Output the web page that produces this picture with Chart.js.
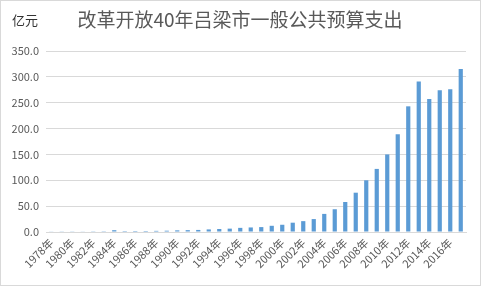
<!DOCTYPE html>
<html>
<head>
<meta charset="utf-8">
<script src="https://cdn.jsdelivr.net/npm/chart.js@4.4.0/dist/chart.umd.min.js"></script>
<style>
  html, body { margin: 0; padding: 0; background: #fff; }
  #container { position: relative; width: 479px; height: 284px; border: 1px solid #d9d9d9; }
</style>
</head>
<body>
<div id="container"><canvas id="budgetChart" width="479" height="284"></canvas></div>
<script>
// years 1978 - 2017
const years = ['1978年','1979年','1980年','1981年','1982年','1983年','1984年','1985年','1986年','1987年',
  '1988年','1989年','1990年','1991年','1992年','1993年','1994年','1995年','1996年','1997年',
  '1998年','1999年','2000年','2001年','2002年','2003年','2004年','2005年','2006年','2007年',
  '2008年','2009年','2010年','2011年','2012年','2013年','2014年','2015年','2016年','2017年'];

// 一般公共预算支出 (亿元)
const spending = [1.2, 1.3, 1.3, 1.2, 1.4, 1.5, 3.5, 1.8, 1.9, 1.9,
  2.2, 2.5, 3.2, 3.6, 4.0, 5.0, 5.8, 6.5, 8.0, 8.8,
  9.5, 12, 14, 18, 21, 25, 35, 44, 58, 76,
  100, 122, 150, 189, 243, 291, 257, 274, 276, 315];

const yTicks = [0, 50, 100, 150, 200, 250, 300, 350];

const titleText = '改革开放40年吕梁市一般公共预算支出';
const unitText = '亿元';
const fontFamily = '"Noto Sans CJK SC", "Microsoft YaHei", sans-serif';

// title and unit label, drawn above the plot
const headerText = {
    id: 'headerText',
    afterDraw(chart) {
        const ctx = chart.ctx;
        ctx.save();
        ctx.textBaseline = 'middle';
        ctx.font = '13px ' + fontFamily;
        ctx.fillStyle = '#333333';
        ctx.textAlign = 'left';
        ctx.fillText(unitText, 11, 19);
        ctx.font = '19px ' + fontFamily;
        ctx.fillStyle = '#595959';
        ctx.textAlign = 'center';
        ctx.fillText(titleText, 239, 19);
        ctx.restore();
    }
};

const ctx = document.getElementById('budgetChart').getContext('2d');
const chart = new Chart(ctx, {
    type: 'bar',
    data: {
        labels: years,
        datasets: [{
            label: '一般公共预算支出',
            data: spending,
            backgroundColor: '#5b9bd5',
            barPercentage: 0.4,
            categoryPercentage: 1.0
        }]
    },
    options: {
        responsive: false,
        animation: false,
        layout: {
            padding: { left: 0, right: 14, top: 50, bottom: 2 }
        },
        plugins: {
            legend: { display: false },
            tooltip: { enabled: false },
            title: { display: false }
        },
        scales: {
            x: {
                grid: { display: false, drawTicks: false },
                border: { display: true, color: '#d9d9d9' },
                ticks: {
                    autoSkip: false,
                    maxRotation: 45,
                    minRotation: 45,
                    padding: 4,
                    color: '#595959',
                    font: { family: fontFamily, size: 11 },
                    callback: function (value, index) {
                        return index % 2 === 0 ? this.getLabelForValue(value) : '';
                    }
                },
                afterFit: s => { s.height = 51; }
            },
            y: {
                min: 0,
                max: 350,
                afterBuildTicks: s => { s.ticks = yTicks.map(v => ({ value: v })); },
                grid: { color: '#d9d9d9', drawTicks: false },
                border: { display: false },
                ticks: {
                    padding: 7,
                    color: '#595959',
                    font: { family: fontFamily, size: 11 },
                    callback: v => v.toFixed(1)
                },
                afterFit: s => { s.width = 45; }
            }
        }
    },
    plugins: [headerText]
});
</script>
</body>
</html>
